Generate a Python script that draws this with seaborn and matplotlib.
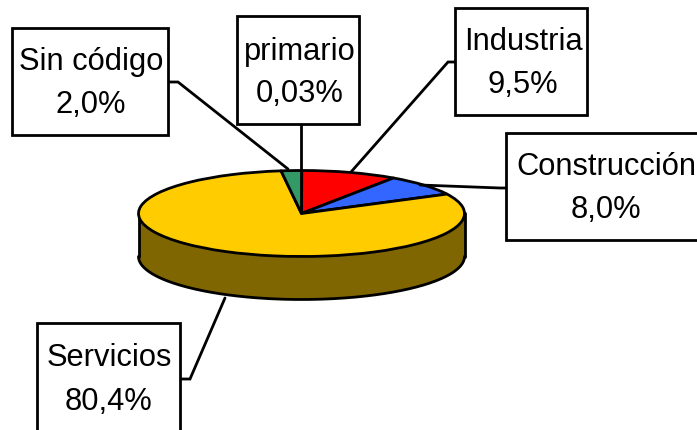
import numpy as np
import matplotlib
matplotlib.use("Agg")
import matplotlib.pyplot as plt
from matplotlib.patches import Rectangle
import seaborn as sns

# Data
categories = ["primario", "Industria", "Construcción", "Servicios", "Sin código"]
shares = [0.03, 9.5, 8.0, 80.4, 2.0]
share_labels = ["0,03%", "9,5%", "8,0%", "80,4%", "2,0%"]
colors = ["#FFFFFF", "#FF0000", "#3366FF", "#FFCC00", "#339966"]
side_color = "#806600"

# Layout, in reference pixels
W, H = 697, 430
CX, CY, RX, RY, DEPTH = 301.5, 213.5, 163, 43, 43
boxes = [(237, 16, 359, 124), (455, 8, 587, 115), (506, 133, 706, 240),
         (37, 323, 180, 440), (12, 28, 168, 135)]
text_y = [(52, 94), (42, 85), (167, 210), (358, 402), (62, 105)]
text_dx = [1.5, 2, 0, 0.5, 1]
leaders = [
    [(301, 124), (301, 170)],
    [(456, 62), (448, 62), (351, 172)],
    [(506, 188), (500, 188), (420, 185)],
    [(180, 379), (190, 379), (225, 298)],
    [(168, 82), (178, 82), (288, 169)],
]

sns.set_theme(style="white")
plt.rcParams["font.family"] = ["Liberation Sans", "DejaVu Sans"]

fig = plt.figure(figsize=(W / 100, H / 100), dpi=100, facecolor="white")

# Pie axes: one data unit is RX pixels across and RY pixels down
ax = fig.add_axes([0, 0, 1, 1])
LW = 2.0
ax.pie(shares, colors=colors, startangle=90, counterclock=False, radius=1,
       wedgeprops=dict(edgecolor="black", linewidth=LW, joinstyle="round"))
ax.set_aspect("auto")
ax.set_xlim(-CX / RX, (W - CX) / RX)
ax.set_ylim((CY - H) / RY, CY / RY)
ax.axis("off")

# Side wall of the disc
t = np.linspace(np.pi, 2 * np.pi, 200)
d = DEPTH / RY
ax.fill_between(np.cos(t), np.sin(t), np.sin(t) - d, color=side_color, zorder=0.5, lw=0)
ax.plot(np.cos(t), np.sin(t) - d, color="black", lw=LW, zorder=0.6)
ax.plot([-1, -1], [0, -d], color="black", lw=LW, zorder=0.6)
ax.plot([1, 1], [0, -d], color="black", lw=LW, zorder=0.6)

# Overlay in pixels for the callouts
ov = fig.add_axes([0, 0, 1, 1], facecolor="none")
ov.set_xlim(0, W)
ov.set_ylim(H, 0)
ov.axis("off")
for cat, lab, (x0, y0, x1, y1), (ya, yb), dx, path in zip(categories, share_labels, boxes, text_y, text_dx, leaders):
    ov.add_patch(Rectangle((x0, y0), x1 - x0, y1 - y0, facecolor="white",
                           edgecolor="black", linewidth=LW, zorder=3))
    xs, ys = zip(*path)
    ov.plot(xs, ys, color="black", lw=LW, zorder=2, solid_joinstyle="miter")
    xc = (x0 + x1) / 2 + dx
    ov.text(xc, ya, cat, ha="center", va="center", fontsize=22.2, color="black", zorder=4)
    ov.text(xc, yb, lab, ha="center", va="center", fontsize=22.2, color="black", zorder=4)

fig.savefig("out.png", dpi=100)
